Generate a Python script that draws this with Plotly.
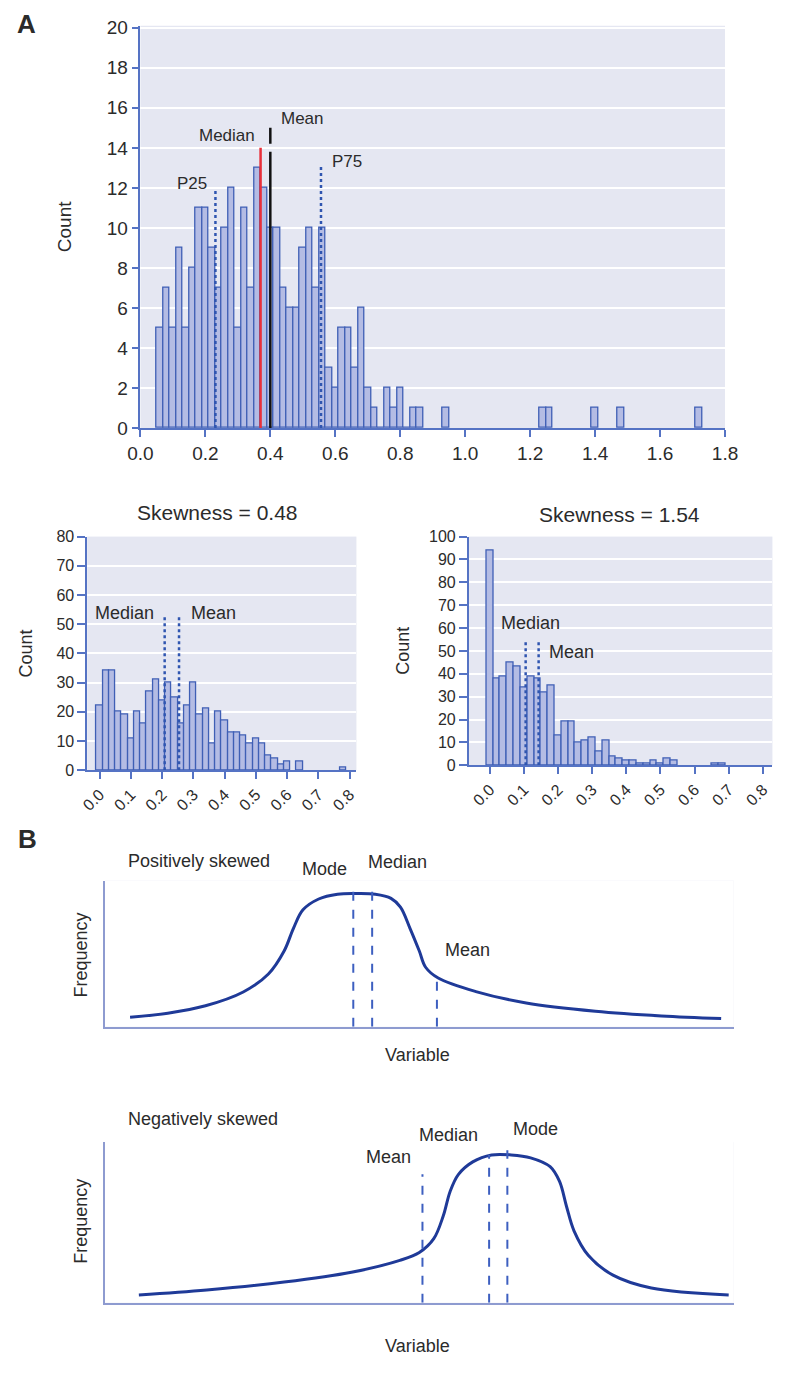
import plotly.graph_objects as go

W, H = 798, 1373
FONT = "Liberation Sans, Arial, sans-serif"
TXT = "#2b2b2b"
BG = "#E5E7F2"
BAR_FILL = "#B4BCE4"
BAR_LINE = "#3F5FB5"
AX = "#5573C4"
DOT = "#2F55B0"
CURVE = "#1F3A98"

# ---------------- Panel A top histogram ----------------
top_bins = [0.06, 0.08, 0.10, 0.12, 0.14, 0.16, 0.18, 0.20, 0.22, 0.24, 0.26, 0.28, 0.30, 0.32,
            0.34, 0.36, 0.38, 0.40, 0.42, 0.44, 0.46, 0.48, 0.50, 0.52, 0.54, 0.56, 0.58, 0.60,
            0.62, 0.64, 0.66, 0.68, 0.70, 0.72, 0.74, 0.76, 0.78, 0.80, 0.82, 0.84, 0.86,
            0.94, 1.24, 1.26, 1.40, 1.48, 1.72]
top_counts = [5, 7, 5, 9, 5, 8, 11, 11, 9, 7, 10, 12, 5, 11,
              7, 13, 12, 10, 10, 7, 6, 6, 9, 10, 7, 10, 3, 2,
              5, 5, 3, 6, 2, 1, 0, 2, 1, 2, 0, 1, 1,
              1, 1, 1, 1, 1, 1]
top_xticks = [0.0, 0.2, 0.4, 0.6, 0.8, 1.0, 1.2, 1.4, 1.6, 1.8]
top_yticks = [0, 2, 4, 6, 8, 10, 12, 14, 16, 18, 20]
top_median, top_mean, top_p25, top_p75 = 0.37, 0.40, 0.231, 0.556
top_median_h, top_mean_h, top_p25_h, top_p75_h = 14.0, 13.8, 12.0, 13.15

# ---------------- Panel A bottom-left (skewness 0.48) ----------------
bl_bins = [0.00, 0.02, 0.04, 0.06, 0.08, 0.10, 0.12, 0.14, 0.16, 0.18, 0.20, 0.22, 0.24, 0.26,
           0.28, 0.30, 0.32, 0.34, 0.36, 0.38, 0.40, 0.42, 0.44, 0.46, 0.48, 0.50, 0.52,
           0.54, 0.56, 0.58, 0.60, 0.64, 0.78]
bl_counts = [22, 34, 34, 20, 19, 11, 20, 16, 27, 31, 24, 30, 25, 16,
             22, 30, 19, 21, 9, 20, 17, 13, 13, 12, 9, 11, 9,
             5, 4, 2, 3, 3, 1]
bl_median, bl_mean, bl_line_h = 0.208, 0.254, 53.3
bl_yticks = [0, 10, 20, 30, 40, 50, 60, 70, 80]

# ---------------- Panel A bottom-right (skewness 1.54) ----------------
br_bins = [0.00, 0.02, 0.04, 0.06, 0.08, 0.10, 0.12, 0.14, 0.16, 0.18, 0.20, 0.22, 0.24, 0.26,
           0.28, 0.30, 0.32, 0.34, 0.36, 0.38, 0.40, 0.42, 0.44, 0.46, 0.48, 0.50, 0.52, 0.54,
           0.66, 0.68]
br_counts = [94, 38, 39, 45, 43, 34, 39, 38, 32, 35, 13, 19, 19, 10, 11, 12, 6, 11,
             4, 3, 2, 2, 1, 1, 2, 1, 3, 2, 1, 1]
br_median, br_mean, br_line_h = 0.105, 0.143, 54.4
br_yticks = [0, 10, 20, 30, 40, 50, 60, 70, 80, 90, 100]

small_xticks = [0.0, 0.1, 0.2, 0.3, 0.4, 0.5, 0.6, 0.7, 0.8]

# ---------------- Panel B curves ----------------
pos_x = [4, 10, 16, 22, 26, 28.5, 30, 31.5, 34, 37, 40, 43, 45.5, 47, 48.5, 50, 51, 53, 59, 67, 78, 88.5, 98]
pos_y = [7, 10, 15.5, 25.7, 39, 56, 73, 86.5, 94.5, 98, 98.5, 98, 95, 88.5, 73, 56, 44, 36, 26, 17.6, 11.5, 8, 6]
pos_mode, pos_median, pos_mean = 39.5, 42.5, 52.8
pos_mode_h, pos_median_h, pos_mean_h = 103, 103, 40

neg_x = [5.4, 16.2, 28.5, 39.2, 46.9, 50, 52.3, 53.8, 54.9, 56.2, 58.5, 61.5, 64.6, 67.7, 70.8, 72.3,
         73.4, 74.6, 76.9, 80.8, 86.9, 99.2]
neg_y = [4.9, 8, 12.9, 19, 26.4, 31.3, 39.9, 54, 69.3, 79.8, 87.7, 92, 92, 90.2, 84.7, 75.5,
         60.1, 44.8, 29.4, 17.2, 9.2, 4.9]
neg_mean, neg_median, neg_mode = 50.5, 61.1, 64.0
neg_mean_h, neg_median_h, neg_mode_h = 80, 92, 95


def px_x(p):
    return p / W


def px_y(p):
    return 1 - p / H


fig = go.Figure()


def add_hist(bins, counts, xa, ya):
    fig.add_trace(go.Bar(x=bins, y=counts, width=0.02, xaxis=xa, yaxis=ya,
                         marker=dict(color=BAR_FILL, line=dict(color=BAR_LINE, width=1.3)),
                         showlegend=False, hoverinfo="skip"))


def vline(x, h, xa, ya, color, dash, width):
    fig.add_trace(go.Scatter(x=[x, x], y=[0, h], mode="lines", xaxis=xa, yaxis=ya,
                             line=dict(color=color, dash=dash, width=width),
                             showlegend=False, hoverinfo="skip", cliponaxis=False))


# top histogram
add_hist(top_bins, top_counts, "x", "y")
vline(top_p25, top_p25_h, "x", "y", DOT, "dot", 2.5)
vline(top_p75, top_p75_h, "x", "y", DOT, "dot", 2.5)
vline(top_median, top_median_h, "x", "y", "#E8303A", "solid", 2.5)
vline(top_mean, top_mean_h, "x", "y", "#111111", "solid", 2.5)
fig.add_trace(go.Scatter(x=[top_mean, top_mean], y=[14.2, 15.0], mode="lines", xaxis="x", yaxis="y",
                         line=dict(color="#111111", width=2.5), showlegend=False, hoverinfo="skip"))

# bottom-left
add_hist(bl_bins, bl_counts, "x2", "y2")
vline(bl_median, bl_line_h, "x2", "y2", DOT, "dot", 2.5)
vline(bl_mean, bl_line_h, "x2", "y2", DOT, "dot", 2.5)

# bottom-right
add_hist(br_bins, br_counts, "x3", "y3")
vline(br_median, br_line_h, "x3", "y3", DOT, "dot", 2.5)
vline(br_mean, br_line_h, "x3", "y3", DOT, "dot", 2.5)

# panel B
fig.add_trace(go.Scatter(x=pos_x, y=pos_y, mode="lines", xaxis="x4", yaxis="y4",
                         line=dict(color=CURVE, width=3, shape="spline", smoothing=1.0),
                         showlegend=False, hoverinfo="skip"))
for xv, hv in [(pos_mode, pos_mode_h), (pos_median, pos_median_h), (pos_mean, pos_mean_h)]:
    vline(xv, hv, "x4", "y4", "#3D5FC0", "dash", 2)
fig.add_trace(go.Scatter(x=neg_x, y=neg_y, mode="lines", xaxis="x5", yaxis="y5",
                         line=dict(color=CURVE, width=3, shape="spline", smoothing=1.0),
                         showlegend=False, hoverinfo="skip"))
for xv, hv in [(neg_mean, neg_mean_h), (neg_median, neg_median_h), (neg_mode, neg_mode_h)]:
    vline(xv, hv, "x5", "y5", "#3D5FC0", "dash", 2)

tickfont_big = dict(family=FONT, size=19, color=TXT)
tickfont_small = dict(family=FONT, size=16, color=TXT)


def hist_axes(xdom, ydom, xr, yr, xt, yt, tf, anchor_x, anchor_y, tickangle, fmt, tlen):
    xa = dict(domain=xdom, range=xr, anchor=anchor_y, tickmode="array", tickvals=xt,
              ticktext=[fmt.format(v) for v in xt], showgrid=False, zeroline=False,
              showline=True, linecolor=AX, linewidth=1.5, ticks="outside", tickcolor=AX,
              ticklen=7, tickwidth=1.5, tickfont=tf, tickangle=tickangle, fixedrange=True)
    ya = dict(domain=ydom, range=yr, anchor=anchor_x, tickmode="array", tickvals=yt,
              showgrid=True, gridcolor="white", gridwidth=2, zeroline=False,
              showline=True, linecolor=AX, linewidth=1.5, ticks="outside", tickcolor=AX,
              ticklen=tlen, tickwidth=1.5, tickfont=tf, fixedrange=True)
    return xa, ya


xa1, ya1 = hist_axes([px_x(131.7), px_x(736)], [px_y(426), px_y(18)], [0, 1.8], [0, 20.1],
                     top_xticks, top_yticks, tickfont_big, "x", "y", 0, "{:.1f}", 7)
xa2, ya2 = hist_axes([px_x(76.7), px_x(355)], [px_y(773), px_y(536)], [-0.04, 0.822], [0, 80],
                     small_xticks, bl_yticks, tickfont_small, "x2", "y2", -45, "{:.1f}", 8)
xa3, ya3 = hist_axes([px_x(471), px_x(785)], [px_y(768), px_y(536)], [-0.062, 0.828], [0, 100],
                     small_xticks, br_yticks, tickfont_small, "x3", "y3", -45, "{:.1f}", 8)

bax = dict(showgrid=False, zeroline=False, showticklabels=False, ticks="",
           showline=True, linecolor="#8E9BD0", linewidth=1.5, fixedrange=True)

fig.update_layout(
    width=W, height=H, margin=dict(l=0, r=0, t=0, b=0),
    paper_bgcolor="white", plot_bgcolor=BG, bargap=0, showlegend=False,
    font=dict(family=FONT, color=TXT),
    xaxis=xa1, yaxis=ya1, xaxis2=xa2, yaxis2=ya2, xaxis3=xa3, yaxis3=ya3,
    xaxis4=dict(domain=[px_x(95), px_x(745)], range=[0, 100], anchor="y4", **bax),
    yaxis4=dict(domain=[px_y(1033), px_y(885)], range=[0, 108], anchor="x4", **bax),
    xaxis5=dict(domain=[px_x(95), px_x(745)], range=[0, 100], anchor="y5", **bax),
    yaxis5=dict(domain=[px_y(1313), px_y(1150)], range=[0, 100], anchor="x5", **bax),
)

fig.add_shape(type="rect", xref="x4 domain", yref="y4 domain", x0=0, x1=1, y0=0, y1=1,
              fillcolor="white", line=dict(width=0), layer="below")
fig.add_shape(type="rect", xref="x5 domain", yref="y5 domain", x0=0, x1=1, y0=0, y1=1,
              fillcolor="white", line=dict(width=0), layer="below")

ann = []


def text(x, y, s, xref, yref, size=18, xanchor="center", yanchor="middle", **kw):
    ann.append(dict(x=x, y=y, text=s, xref=xref, yref=yref, showarrow=False,
                    xanchor=xanchor, yanchor=yanchor,
                    font=dict(family=FONT, size=size, color=TXT), **kw))


text(px_x(14), px_y(16), "<b>A</b>", "paper", "paper", size=26)
text(px_x(15), px_y(843), "<b>B</b>", "paper", "paper", size=26)
text(px_x(54), px_y(222), "Count", "paper", "paper", size=19, textangle=-90)
text(px_x(13), px_y(655), "Count", "paper", "paper", size=18, textangle=-90)
text(px_x(403), px_y(652), "Count", "paper", "paper", size=18, textangle=-90)

text(0.266, 14.63, "Median", "x", "y", size=17)
text(0.50, 15.47, "Mean", "x", "y", size=17)
text(0.159, 12.24, "P25", "x", "y", size=17)
text(0.637, 13.3, "P75", "x", "y", size=17)

text(px_x(211.7), px_y(511.7), "Skewness = 0.48", "paper", "paper", size=21)
text(px_x(626.7), px_y(513.3), "Skewness = 1.54", "paper", "paper", size=21)
text(0.079, 53.9, "Median", "x2", "y2", size=18)
text(0.363, 53.9, "Mean", "x2", "y2", size=18)
text(0.118, 62.4, "Median", "x3", "y3", size=18)
text(0.238, 49.7, "Mean", "x3", "y3", size=18)

text(px_x(117), px_y(865), "Positively skewed", "paper", "paper", size=18, xanchor="left")
text(px_x(70), px_y(960), "Frequency", "paper", "paper", size=18, textangle=-90)
text(px_x(418), px_y(1062), "Variable", "paper", "paper", size=18)
text(34.9, 1.081, "Mode", "x4", "y4 domain", size=18)
text(46.6, 1.128, "Median", "x4", "y4 domain", size=18)
text(57.7, 0.527, "Mean", "x4", "y4 domain", size=18)

text(px_x(117), px_y(1127), "Negatively skewed", "paper", "paper", size=18, xanchor="left")
text(px_x(70), px_y(1230), "Frequency", "paper", "paper", size=18, textangle=-90)
text(px_x(418), px_y(1357), "Variable", "paper", "paper", size=18)
text(45.1, 0.908, "Mean", "x5", "y5 domain", size=18)
text(54.6, 1.043, "Median", "x5", "y5 domain", size=18)
text(68.5, 1.08, "Mode", "x5", "y5 domain", size=18)

fig.update_layout(annotations=ann)
fig.write_html("out.html", config={"displayModeBar": False},
               post_script="document.body.style.margin='0px';document.body.style.overflow='hidden';")
